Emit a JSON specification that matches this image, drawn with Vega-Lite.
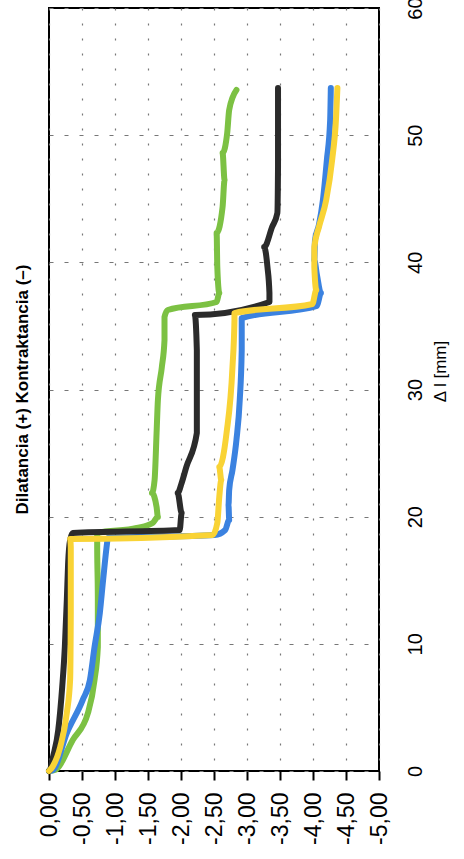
{
  "$schema": "https://vega.github.io/schema/vega-lite/v6.json",
  "autosize": "none",
  "padding": {"left": 49, "top": 8, "right": 85, "bottom": 88},
  "width": 330,
  "height": 763,
  "background": "white",
  "config": {
    "view": {"stroke": "black", "strokeWidth": 2},
    "font": "Liberation Sans"
  },
  "title": {
    "text": "Dilatancia (+) Kontraktancia (–)",
    "orient": "left",
    "anchor": "middle",
    "offset": 6,
    "fontSize": 17,
    "fontWeight": "bold",
    "font": "Liberation Sans",
    "color": "black"
  },
  "data": {
    "values": [
      {"s": "green", "d": 0, "dl": 0},
      {"s": "green", "d": -0.09, "dl": 0.08},
      {"s": "green", "d": -0.36, "dl": 2.44},
      {"s": "green", "d": -0.59, "dl": 4.56},
      {"s": "green", "d": -0.69, "dl": 7.16},
      {"s": "green", "d": -0.74, "dl": 9.75},
      {"s": "green", "d": -0.74, "dl": 13.68},
      {"s": "green", "d": -0.73, "dl": 17.61},
      {"s": "green", "d": -0.73, "dl": 18.72},
      {"s": "green", "d": -1.33, "dl": 19.11},
      {"s": "green", "d": -1.57, "dl": 19.5},
      {"s": "green", "d": -1.65, "dl": 19.97},
      {"s": "green", "d": -1.63, "dl": 20.76},
      {"s": "green", "d": -1.56, "dl": 21.86},
      {"s": "green", "d": -1.6, "dl": 22.88},
      {"s": "green", "d": -1.63, "dl": 26.58},
      {"s": "green", "d": -1.65, "dl": 29.17},
      {"s": "green", "d": -1.71, "dl": 31.77},
      {"s": "green", "d": -1.75, "dl": 33.89},
      {"s": "green", "d": -1.75, "dl": 35.7},
      {"s": "green", "d": -1.8, "dl": 36.25},
      {"s": "green", "d": -2.54, "dl": 36.88},
      {"s": "green", "d": -2.58, "dl": 37.59},
      {"s": "green", "d": -2.55, "dl": 39.63},
      {"s": "green", "d": -2.54, "dl": 42.31},
      {"s": "green", "d": -2.63, "dl": 44.35},
      {"s": "green", "d": -2.66, "dl": 46.47},
      {"s": "green", "d": -2.63, "dl": 48.6},
      {"s": "green", "d": -2.7, "dl": 50.17},
      {"s": "green", "d": -2.73, "dl": 51.98},
      {"s": "green", "d": -2.84, "dl": 53.55},

      {"s": "blue", "d": 0, "dl": 0},
      {"s": "blue", "d": -0.06, "dl": 0.08},
      {"s": "blue", "d": -0.27, "dl": 2.99},
      {"s": "blue", "d": -0.51, "dl": 5.58},
      {"s": "blue", "d": -0.62, "dl": 7.16},
      {"s": "blue", "d": -0.69, "dl": 9.75},
      {"s": "blue", "d": -0.77, "dl": 12.42},
      {"s": "blue", "d": -0.82, "dl": 15.02},
      {"s": "blue", "d": -0.88, "dl": 17.93},
      {"s": "blue", "d": -0.89, "dl": 18.32},
      {"s": "blue", "d": -2.51, "dl": 18.56},
      {"s": "blue", "d": -2.67, "dl": 18.95},
      {"s": "blue", "d": -2.73, "dl": 19.74},
      {"s": "blue", "d": -2.72, "dl": 20.92},
      {"s": "blue", "d": -2.73, "dl": 22.1},
      {"s": "blue", "d": -2.78, "dl": 23.67},
      {"s": "blue", "d": -2.84, "dl": 26.03},
      {"s": "blue", "d": -2.89, "dl": 29.17},
      {"s": "blue", "d": -2.92, "dl": 33.1},
      {"s": "blue", "d": -2.92, "dl": 35.62},
      {"s": "blue", "d": -4.06, "dl": 36.57},
      {"s": "blue", "d": -4.12, "dl": 37.59},
      {"s": "blue", "d": -4.06, "dl": 39.0},
      {"s": "blue", "d": -4.02, "dl": 40.18},
      {"s": "blue", "d": -4.03, "dl": 41.75},
      {"s": "blue", "d": -4.09, "dl": 42.94},
      {"s": "blue", "d": -4.15, "dl": 44.9},
      {"s": "blue", "d": -4.21, "dl": 48.05},
      {"s": "blue", "d": -4.26, "dl": 51.19},
      {"s": "blue", "d": -4.27, "dl": 53.71},

      {"s": "black", "d": 0, "dl": 0},
      {"s": "black", "d": -0.015, "dl": 0.08},
      {"s": "black", "d": -0.06, "dl": 1.1},
      {"s": "black", "d": -0.14, "dl": 3.22},
      {"s": "black", "d": -0.2, "dl": 6.61},
      {"s": "black", "d": -0.24, "dl": 9.75},
      {"s": "black", "d": -0.27, "dl": 13.45},
      {"s": "black", "d": -0.29, "dl": 16.36},
      {"s": "black", "d": -0.32, "dl": 18.16},
      {"s": "black", "d": -0.36, "dl": 18.72},
      {"s": "black", "d": -1.98, "dl": 18.95},
      {"s": "black", "d": -2.01, "dl": 20.29},
      {"s": "black", "d": -1.95, "dl": 21.86},
      {"s": "black", "d": -2.01, "dl": 22.65},
      {"s": "black", "d": -2.08, "dl": 23.9},
      {"s": "black", "d": -2.24, "dl": 26.58},
      {"s": "black", "d": -2.24, "dl": 29.17},
      {"s": "black", "d": -2.24, "dl": 33.1},
      {"s": "black", "d": -2.21, "dl": 35.86},
      {"s": "black", "d": -3.34, "dl": 36.88},
      {"s": "black", "d": -3.34, "dl": 37.59},
      {"s": "black", "d": -3.31, "dl": 39.63},
      {"s": "black", "d": -3.26, "dl": 41.2},
      {"s": "black", "d": -3.38, "dl": 42.78},
      {"s": "black", "d": -3.46, "dl": 43.88},
      {"s": "black", "d": -3.47, "dl": 47.5},
      {"s": "black", "d": -3.47, "dl": 53.71},

      {"s": "yellow", "d": 0, "dl": 0},
      {"s": "yellow", "d": -0.05, "dl": 0.31},
      {"s": "yellow", "d": -0.17, "dl": 1.89},
      {"s": "yellow", "d": -0.27, "dl": 4.56},
      {"s": "yellow", "d": -0.32, "dl": 7.16},
      {"s": "yellow", "d": -0.33, "dl": 12.42},
      {"s": "yellow", "d": -0.33, "dl": 17.61},
      {"s": "yellow", "d": -0.32, "dl": 18.24},
      {"s": "yellow", "d": -2.48, "dl": 18.56},
      {"s": "yellow", "d": -2.55, "dl": 19.5},
      {"s": "yellow", "d": -2.58, "dl": 21.55},
      {"s": "yellow", "d": -2.61, "dl": 22.88},
      {"s": "yellow", "d": -2.58, "dl": 23.9},
      {"s": "yellow", "d": -2.69, "dl": 26.58},
      {"s": "yellow", "d": -2.78, "dl": 31.77},
      {"s": "yellow", "d": -2.81, "dl": 35.46},
      {"s": "yellow", "d": -2.81, "dl": 36.01},
      {"s": "yellow", "d": -3.99, "dl": 36.72},
      {"s": "yellow", "d": -4.05, "dl": 37.82},
      {"s": "yellow", "d": -4.02, "dl": 39.63},
      {"s": "yellow", "d": -4.02, "dl": 41.2},
      {"s": "yellow", "d": -4.09, "dl": 42.78},
      {"s": "yellow", "d": -4.2, "dl": 44.9},
      {"s": "yellow", "d": -4.29, "dl": 48.05},
      {"s": "yellow", "d": -4.35, "dl": 51.43},
      {"s": "yellow", "d": -4.37, "dl": 53.71}
    ]
  },
  "mark": {"type": "line", "strokeWidth": 6, "strokeCap": "round", "strokeJoin": "round", "interpolate": "monotone"},
  "encoding": {
    "x": {
      "field": "d",
      "type": "quantitative",
      "scale": {"domain": [-5, 0], "reverse": true, "nice": false, "zero": false},
      "axis": {
        "orient": "bottom",
        "values": [0, -0.5, -1, -1.5, -2, -2.5, -3, -3.5, -4, -4.5, -5],
        "labelExpr": "replace(replace(format(datum.value, '.2f'), '.', ','), '\u2212', '-')",
        "labelAngle": 270,
        "labelAlign": "right",
        "labelBaseline": "middle",
        "labelFontSize": 23,
        "labelFont": "Liberation Sans",
        "labelColor": "black",
        "labelPadding": 12,
        "labelBound": false,
        "labelOverlap": false,
        "labelFlush": false,
        "tickSize": 9,
        "tickWidth": 2,
        "tickColor": "black",
        "domain": false,
        "grid": true,
        "gridColor": "#777777",
        "gridWidth": 1.2,
        "gridDash": [2, 13],
        "title": null
      }
    },
    "y": {
      "field": "dl",
      "type": "quantitative",
      "scale": {"domain": [0, 60], "nice": false},
      "axis": {
        "orient": "right",
        "values": [0, 10, 20, 30, 40, 50, 60],
        "labelAngle": 270,
        "labelAlign": "center",
        "labelBaseline": "top",
        "labelFontSize": 20,
        "labelFont": "Liberation Sans",
        "labelColor": "black",
        "labelPadding": 26,
        "labelBound": false,
        "labelOverlap": false,
        "labelFlush": false,
        "ticks": false,
        "domain": false,
        "grid": true,
        "gridColor": "#777777",
        "gridWidth": 1.2,
        "gridDash": [4, 11],
        "title": "Δ l [mm]",
        "titleAngle": 270,
        "titleAlign": "center",
        "titleBaseline": "middle",
        "titleX": 61,
        "titleY": 363,
        "titleFontSize": 17,
        "titleFontWeight": "normal",
        "titleFont": "Liberation Sans",
        "titleColor": "black"
      }
    },
    "color": {
      "field": "s",
      "type": "nominal",
      "scale": {"domain": ["green", "blue", "black", "yellow"], "range": ["#7cc143", "#3b82e0", "#2b2b2b", "#f9d335"]},
      "legend": null
    },
    "order": {"field": "dl", "type": "quantitative"}
  }
}
